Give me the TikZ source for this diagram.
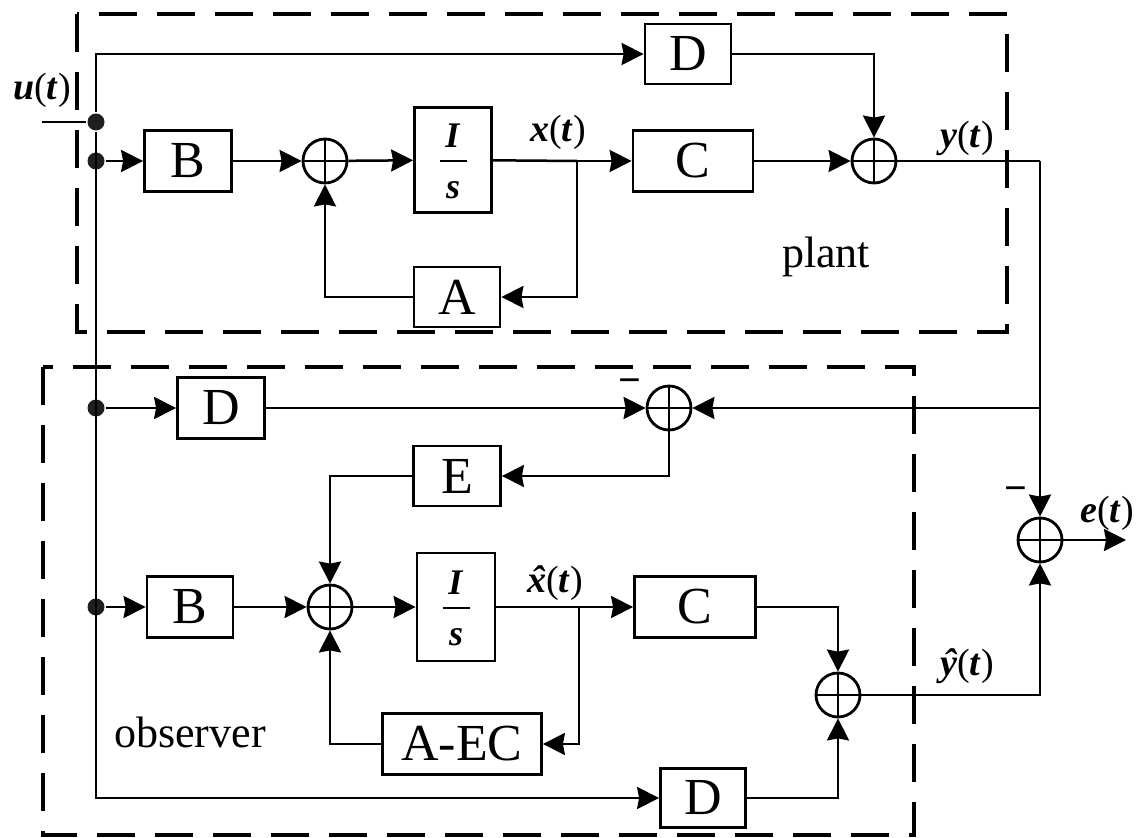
\documentclass[tikz,border=0pt]{standalone}
\usepackage{fontspec}
\setmainfont{Liberation Serif}
\usetikzlibrary{arrows.meta}
\newcommand\bi[1]{\textbf{\textit{#1}}}
\newcommand\hatbi[1]{{\ooalign{\bi{#1}\cr\hidewidth\kern0.12em\bi{\char"02C6}\hidewidth\cr}}}
\begin{document}
\begin{tikzpicture}[x=0.5pt,y=-0.5pt,
  >={Stealth[length=11pt,width=11pt,inset=1pt]},
  line width=1.25pt,
  blk/.style={draw, line width=1.4pt, inner sep=0pt, font=\fontsize{26}{30}\selectfont},
  sumnode/.style={draw, circle, line width=1.4pt, minimum size=22pt, inner sep=0pt,
    path picture={\draw[line width=1.3pt] (path picture bounding box.north) -- (path picture bounding box.south)
      (path picture bounding box.west) -- (path picture bounding box.east);}},
  dotnode/.style={circle, fill=black!88, inner sep=0pt, minimum size=8.5pt},
  lab/.style={font=\fontsize{19}{22}\selectfont, inner sep=0pt},
  frac/.style={font=\fontsize{18}{21}\selectfont, inner sep=0pt},
  word/.style={font=\fontsize{22}{26}\selectfont, inner sep=0pt},
  minus/.style={font=\bfseries\fontsize{20}{24}\selectfont, inner sep=0pt},
  dashbox/.style={dash pattern=on 19pt off 10pt, line width=1.7pt}]
\useasboundingbox (0,0) rectangle (1144,838);

% dashed frames
\draw[dashbox] (77,14) rectangle (1007,332);
\draw[dashbox] (43,367) rectangle (914,835);

% plant blocks
\node[blk, minimum width=43pt, minimum height=30pt] (D1) at (688,54) {D};
\node[blk, minimum width=43.5pt, minimum height=30.5pt] (B1) at (188,161) {B};
\node[sumnode] (s1) at (325,161) {};
\node[blk, minimum width=38.5pt, minimum height=52.5pt] (IS1) at (453,160) {};
\node[frac] (IS1n) at ([yshift=12pt]IS1.center) {\bi{I}};
\node[frac] (IS1d) at ([yshift=-15pt]IS1.center) {\bi{s}};
\draw[line width=1.1pt] ([xshift=-6.75pt,yshift=-0.5pt]IS1.center) -- ([xshift=6.75pt,yshift=-0.5pt]IS1.center);
\node[blk, minimum width=60pt, minimum height=30.5pt] (C1) at (693,161) {C};
\node[blk, minimum width=43pt, minimum height=30pt] (A1) at (457,297) {A};
\node[sumnode] (s2) at (874,161) {};
\coordinate (br1) at (577,161);

% input bus
\coordinate (uin) at (42,122);
\node[dotnode] (j1) at (96,122) {};
\node[dotnode] (j2) at (96,161) {};
\node[dotnode] (j3) at (96,408) {};
\node[dotnode] (j4) at (96,607) {};

% observer blocks
\node[blk, minimum width=43.5pt, minimum height=30.5pt] (D2) at (221,408) {D};
\node[sumnode] (s3) at (669,408) {};
\node[blk, minimum width=43.5pt, minimum height=30pt] (E) at (457,476) {E};
\node[blk, minimum width=43pt, minimum height=30.5pt] (B2) at (190,607) {B};
\node[sumnode] (s4) at (330,607) {};
\node[blk, minimum width=39pt, minimum height=54pt] (IS2) at (456,607) {};
\node[frac] (IS2n) at ([yshift=12pt]IS2.center) {\bi{I}};
\node[frac] (IS2d) at ([yshift=-15pt]IS2.center) {\bi{s}};
\draw[line width=1.1pt] ([xshift=-6.75pt,yshift=-0.5pt]IS2.center) -- ([xshift=6.75pt,yshift=-0.5pt]IS2.center);
\node[blk, minimum width=60.5pt, minimum height=30.5pt] (C2) at (695,607) {C};
\node[blk, minimum width=79.5pt, minimum height=30.5pt] (AEC) at (462,744) {A-EC};
\node[blk, minimum width=42.5pt, minimum height=29.5pt] (D3) at (703,798) {D};
\node[sumnode] (s5) at (838,695) {};
\node[sumnode] (s6) at (1040,540) {};
\coordinate (br2) at (579,607);
\coordinate (yc) at (1040,161);
\coordinate (yb) at (1040,408);
\coordinate (eout) at (1126,540);

% plant connectors
\draw (uin) -- (j1);
\draw[->] (j1) |- (D1);
\draw[->] (j1) |- (D3);
\draw[->] (j2) -- (B1);
\draw[->] (B1) -- (s1);
\draw[->] (s1) -- (IS1);
\draw (IS1) -- (br1);
\draw[->] (br1) -- (C1);
\draw[->] (br1) |- (A1);
\draw[->] (A1) -| (s1);
\draw[->] (C1) -- (s2);
\draw[->] (D1) -| (s2);
\draw (s2) -- (yc);
\draw[->] (yc) -- (s6);
\draw[->] (yb) -- (s3);

% observer connectors
\draw[->] (j3) -- (D2);
\draw[->] (D2) -- (s3);
\draw[->] (s3) |- (E);
\draw[->] (E) -| (s4);
\draw[->] (j4) -- (B2);
\draw[->] (B2) -- (s4);
\draw[->] (s4) -- (IS2);
\draw (IS2) -- (br2);
\draw[->] (br2) -- (C2);
\draw[->] (br2) |- (AEC);
\draw[->] (AEC) -| (s4);
\draw[->] (C2) -| (s5);
\draw[->] (D3) -| (s5);
\draw[->] (s5) -| (s6);
\draw[->] (s6) -- (eout);

% labels
\node[lab] (lu) at (42,90) {\bi{u}(\bi{t})};
\node[lab] (lx) at (558,132) {\bi{x}(\bi{t})};
\node[lab] (ly) at (967,138) {\bi{y}(\bi{t})};
\node[lab] (lxh) at (555,583) {\hatbi{x}(\bi{t})};
\node[lab] (lyh) at (967,666) {\hatbi{y}(\bi{t})};
\node[lab] (le) at (1107,513) {\bi{e}(\bi{t})};
\node[minus] (m1) at (630,386) {−};
\node[minus] (m2) at (1016,494) {−};
\node[word, anchor=base] (lplant) at (826,268) {plant};
\node[word, anchor=base] (lobs) at (190,747) {observer};
\end{tikzpicture}
\end{document}
